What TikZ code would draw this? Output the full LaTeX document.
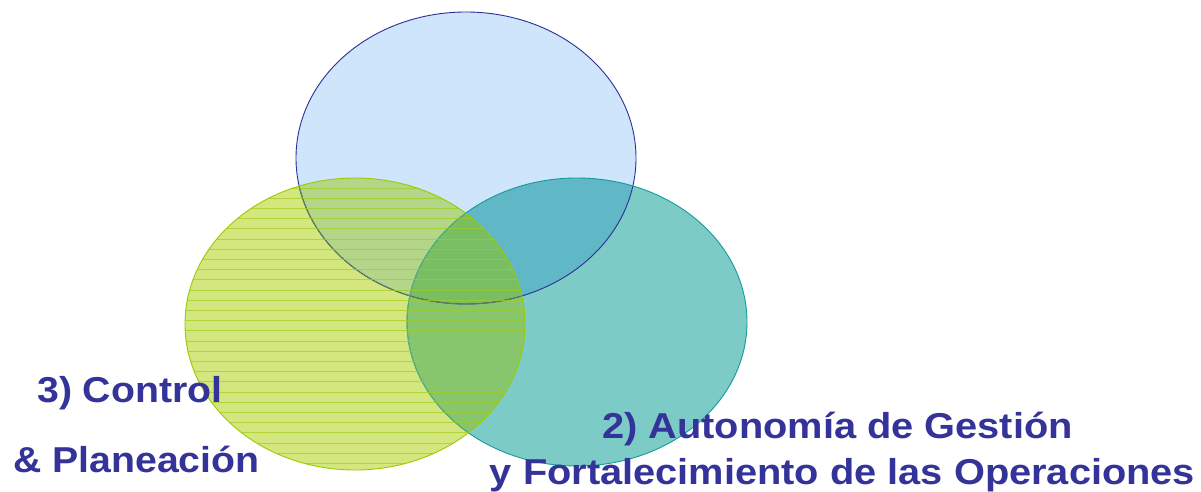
\documentclass[tikz,border=0pt]{standalone}
\usepackage{fontspec}
\setmainfont{Liberation Sans}
\definecolor{bfill}{RGB}{207,229,251}
\definecolor{gfill}{RGB}{212,230,126}
\definecolor{tfill}{RGB}{125,203,198}
\definecolor{bgfill}{RGB}{180,214,136}
\definecolor{btfill}{RGB}{96,183,197}
\definecolor{gtfill}{RGB}{135,198,108}
\definecolor{allfill}{RGB}{122,190,100}
\definecolor{bedge}{RGB}{46,46,150}
\definecolor{bedgemuted}{RGB}{95,125,95}
\definecolor{gedge}{RGB}{153,204,0}
\definecolor{tedge}{RGB}{20,155,155}
\definecolor{tedgemuted}{RGB}{90,175,120}
\definecolor{stripec}{RGB}{160,206,30}
\definecolor{textblue}{RGB}{51,51,153}
\begin{document}
\begin{tikzpicture}[x=1pt,y=-1pt,
  blueE/.style={insert path={(466,158) ellipse [x radius=170, y radius=146]}},
  greenE/.style={insert path={(355,324) ellipse [x radius=170, y radius=146]}},
  tealE/.style={insert path={(577,322) ellipse [x radius=170, y radius=144]}},
  stripe/.style={draw=stripec, line width=1pt, opacity=0.7},
  edge/.style={line width=0.9pt},
  lbl/.style={text=textblue, font=\fontsize{36}{40}\selectfont\bfseries, inner sep=0pt}]
\useasboundingbox (0,0) rectangle (1201,492);
% base fills
\fill[bfill, blueE];
\fill[tfill, tealE];
\fill[gfill, greenE];
% pairwise overlaps
\begin{scope}\clip[blueE]; \fill[bgfill, greenE]; \end{scope}
\begin{scope}\clip[blueE]; \fill[btfill, tealE]; \end{scope}
\begin{scope}\clip[greenE]; \fill[gtfill, tealE]; \end{scope}
\begin{scope}\clip[blueE]; \clip[greenE]; \fill[allfill, tealE]; \end{scope}
% outlines of blue and teal
\draw[bedge, edge, blueE];
\draw[tedge, edge, tealE];
% muted outlines seen through the green ellipse
\begin{scope}\clip[greenE];
  \draw[bedgemuted, edge, blueE];
  \draw[tedgemuted, edge, tealE];
  \foreach \k in {0,...,28} \draw[stripe] (180,{188+10.2*\k}) -- (530,{188+10.2*\k});
\end{scope}
\draw[gedge, edge, greenE];
% labels
\node[lbl, anchor=base west] (c1) at (37,402) {\scalebox{1.09}[1]{3) Control}};
\node[lbl, anchor=base west] (c2) at (13,472) {\scalebox{1.09}[1]{\& Planeación}};
\node[lbl, anchor=base] (a1) at (837.5,438) {\scalebox{1.105}[1]{2) Autonomía de Gestión}};
\node[lbl, anchor=base] (a2) at (842.5,484) {\scalebox{1.105}[1]{y Fortalecimiento de las Operaciones}};
\end{tikzpicture}
\end{document}
